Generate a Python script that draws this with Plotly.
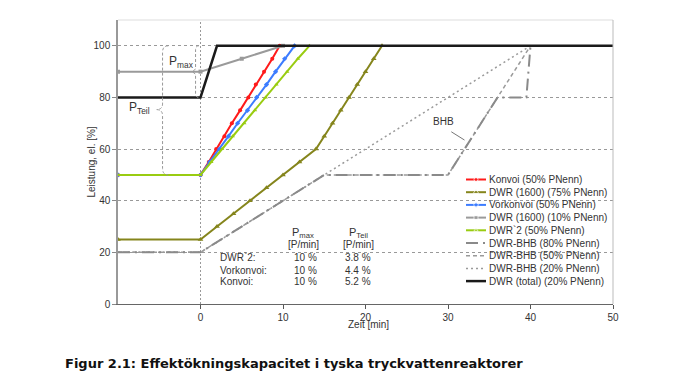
import plotly.graph_objects as go

# ---------------- data ----------------
t_konvoi = [-10, 0, 1.0, 1.9, 2.9, 3.8, 4.8, 5.8, 6.7, 7.7, 8.7, 9.6]
p_konvoi = [50, 50, 55, 60, 65, 70, 75, 80, 85, 90, 95, 100]

t_dwr1600_75 = [-10, 0, 2, 4, 6, 8, 10, 12, 14, 15, 16, 17, 18, 19, 20, 21, 22]
p_dwr1600_75 = [25, 25, 30, 35, 40, 45, 50, 55, 60, 65, 70, 75, 80, 85, 90, 95, 100]

t_vorkonvoi = [-10, 0, 1.1, 2.3, 3.4, 4.5, 5.7, 6.8, 8.0, 9.1, 10.2, 11.4]
p_vorkonvoi = [50, 50, 55, 60, 65, 70, 75, 80, 85, 90, 95, 100]

t_dwr1600_10 = [-10, 0, 5, 10]
p_dwr1600_10 = [90, 90, 95, 100]

t_dwr2 = [-10, 0, 1.3, 2.6, 3.9, 5.3, 6.6, 7.9, 9.2, 10.5, 11.8, 13.2]
p_dwr2 = [50, 50, 55, 60, 65, 70, 75, 80, 85, 90, 95, 100]

t_bhb80 = [-10, 0, 15, 30, 36, 39.5, 40]
p_bhb80 = [20, 20, 50, 50, 80, 80, 100]

t_bhb50 = [-10, 0, 15, 30, 40]
p_bhb50 = [20, 20, 50, 50, 100]

t_bhb20 = [-10, 0, 15, 40]
p_bhb20 = [20, 20, 50, 100]

t_total = [-10, 0, 2, 50]
p_total = [80, 80, 100, 100]

x_ticks = [0, 10, 20, 30, 40, 50]
y_ticks = [0, 20, 40, 60, 80, 100]

table_rows = ["DWR`2:", "Vorkonvoi:", "Konvoi:"]
table_pmax = ["10 %", "10 %", "10 %"]
table_pteil = ["3.8 %", "4.4 %", "5.2 %"]

legend_names = ["Konvoi (50% PNenn)", "DWR (1600) (75% PNenn)", "Vorkonvoi (50% PNenn)",
                "DWR (1600) (10% PNenn)", "DWR`2 (50% PNenn)", "DWR-BHB (80% PNenn)",
                "DWR-BHB (50% PNenn)", "DWR-BHB (20% PNenn)", "DWR (total) (20% PNenn)"]

# ---------------- styles ----------------
W, H = 700, 386
L, R, T, B = 118, 87, 20, 82
FONT = "Liberation Sans, Arial, sans-serif"
TXT = "#333333"

styles = {
    "konvoi": dict(line=dict(color="#ff1a1a", width=2), marker=dict(symbol="circle", size=4, color="#ff1a1a")),
    "d75": dict(line=dict(color="#85851c", width=2), marker=dict(symbol="triangle-up", size=5, color="#85851c")),
    "vork": dict(line=dict(color="#3c7cff", width=2), marker=dict(symbol="diamond", size=4, color="#3c7cff")),
    "d10": dict(line=dict(color="#9a9a9a", width=2), marker=dict(symbol="square", size=4, color="#9a9a9a")),
    "dwr2": dict(line=dict(color="#99cc11", width=2), marker=dict(symbol="triangle-up", size=4, color="#99cc11")),
    "b80": dict(line=dict(color="#8a8a8a", width=2, dash="12px,5px,2px,5px"), marker=dict(size=0)),
    "b50": dict(line=dict(color="#9a9a9a", width=1.5, dash="4px,3px"), marker=dict(size=0)),
    "b20": dict(line=dict(color="#9a9a9a", width=1.5, dash="2px,3px"), marker=dict(size=0)),
    "total": dict(line=dict(color="#1a1a1a", width=2.5), marker=dict(size=0)),
}

def px2x(px):
    return (px - L) / (W - L - R)

def px2y(py):
    return (H - B - py) / (H - T - B)

fig = go.Figure()

def add(t, p, key, mode="lines+markers"):
    s = styles[key]
    fig.add_trace(go.Scatter(x=t, y=p, mode=mode, line=s["line"], marker=s["marker"],
                             showlegend=False, hoverinfo="skip"))

add(t_bhb20, p_bhb20, "b20", "lines")
add(t_bhb50, p_bhb50, "b50", "lines")
add(t_bhb80, p_bhb80, "b80", "lines")
add(t_konvoi, p_konvoi, "konvoi")
add(t_dwr1600_75, p_dwr1600_75, "d75")
add(t_vorkonvoi, p_vorkonvoi, "vork")
add(t_dwr1600_10, p_dwr1600_10, "d10")
add(t_dwr2, p_dwr2, "dwr2")
add(t_total, p_total, "total", "lines")

# ---------------- manual legend (pixel space axes x2/y2) ----------------
keys = ["konvoi", "d75", "vork", "d10", "dwr2", "b80", "b50", "b20", "total"]
row0, step = 179.5, 12.7
annotations = []
for i, (k, name) in enumerate(zip(keys, legend_names)):
    yy = row0 + i * step
    s = styles[k]
    fig.add_trace(go.Scatter(x=[466, 476, 486], y=[yy, yy, yy], mode="lines+markers",
                             line=s["line"],
                             marker=dict(symbol=s["marker"].get("symbol", "circle"),
                                         size=[0, s["marker"].get("size", 0), 0],
                                         color=s["line"]["color"]),
                             xaxis="x2", yaxis="y2", showlegend=False, hoverinfo="skip"))
    annotations.append(dict(x=px2x(487), y=px2y(yy), xref="paper", yref="paper", text=name,
                            showarrow=False, xanchor="left", yanchor="middle",
                            font=dict(family=FONT, size=10, color=TXT)))

# ---------------- texts ----------------
def txt(px, py, text, size=10, anchor="center", color=TXT, family=FONT, angle=0):
    annotations.append(dict(x=px2x(px), y=px2y(py), xref="paper", yref="paper", text=text,
                            showarrow=False, xanchor=anchor, yanchor="middle", textangle=angle,
                            font=dict(family=family, size=size, color=color)))

txt(181, 61.7, "P<sub>max</sub>", 12)
txt(139, 108.3, "P<sub>Teil</sub>", 12)
txt(443.3, 121.7, "BHB", 10)
txt(303.3, 233.3, "P<sub>max</sub>", 11)
txt(303.3, 245, "[P/min]", 10)
txt(358.3, 233.3, "P<sub>Teil</sub>", 11)
txt(358.3, 245, "[P/min]", 10)
for i, (rl, pm, pt) in enumerate(zip(table_rows, table_pmax, table_pteil)):
    yy = [257.3, 270, 281.7][i]
    txt(218.3, yy, rl, 10, anchor="left")
    txt(305, yy, pm, 10)
    txt(358.3, yy, pt, 10)

txt(368, 324, "Zeit [min]", 10)
txt(90.5, 162, "Leistung, el. [%]", 10, angle=-90)
txt(293.5, 363, "<b>Figur 2.1: Effektökningskapacitet i tyska tryckvattenreaktorer</b>", 13,
    color="#111111", family="DejaVu Sans, Verdana, sans-serif")

# ---------------- shapes ----------------
shapes = [
    # legend background
    dict(type="rect", xref="paper", yref="paper", x0=px2x(462), x1=px2x(606), y0=px2y(288), y1=px2y(172),
         fillcolor="white", line=dict(width=0), layer="between"),
    # vertical dotted at t=0
    dict(type="line", xref="x", yref="paper", x0=0, x1=0, y0=0, y1=1,
         line=dict(color="#999999", width=1, dash="2px,2px"), layer="below"),
    # frame top / right
    dict(type="line", xref="paper", yref="paper", x0=0, x1=1, y0=1, y1=1,
         line=dict(color="#dddddd", width=1)),
    dict(type="line", xref="paper", yref="paper", x0=1, x1=1, y0=0, y1=1,
         line=dict(color="#bbbbbb", width=1)),
    # big brace P_Teil
    dict(type="path", xref="x", yref="y",
         path="M -3.9,100 Q -4.6,100 -4.6,97.5 L -4.6,77.5 Q -4.6,75.4 -5.3,75.3 "
              "Q -4.6,75.2 -4.6,73 L -4.6,52.5 Q -4.6,50 -3.9,50",
         line=dict(color="#999999", width=1, dash="3px,2px")),
    # small brace P_max
    dict(type="path", xref="x", yref="y",
         path="M -0.2,100 Q -0.6,100 -0.6,98.5 L -0.6,91 L -1.0,90 L -0.6,89 L -0.6,81.5 Q -0.6,80 -0.2,80",
         line=dict(color="#999999", width=1, dash="3px,2px")),
    # BHB pointer
    dict(type="line", xref="x", yref="y", x0=30.4, y0=66.7, x1=32.0, y1=63.5,
         line=dict(color="#777777", width=1)),
]

fig.update_layout(
    width=W, height=H,
    margin=dict(l=L, r=R, t=T, b=B, pad=0),
    paper_bgcolor="white", plot_bgcolor="white",
    showlegend=False,
    xaxis=dict(range=[-10, 50], tickvals=x_ticks, ticks="outside", ticklen=4, tickcolor="#555555",
               showline=True, linecolor="#666666", linewidth=1, showgrid=False, zeroline=False,
               tickfont=dict(family=FONT, size=10, color=TXT)),
    yaxis=dict(range=[0, 110], tickvals=y_ticks, ticks="outside", ticklen=4, tickcolor="#888888",
               showline=True, linecolor="#999999", linewidth=1.5, showgrid=True,
               gridcolor="#999999", griddash="dot", gridwidth=1, zeroline=False,
               tickfont=dict(family=FONT, size=10, color=TXT)),
    xaxis2=dict(range=[L, W - R], domain=[0, 1], overlaying="x", visible=False, fixedrange=True),
    yaxis2=dict(range=[H - B, T], domain=[0, 1], overlaying="y", visible=False, fixedrange=True),
    annotations=annotations,
    shapes=shapes,
)

fig.write_html("out.html")
